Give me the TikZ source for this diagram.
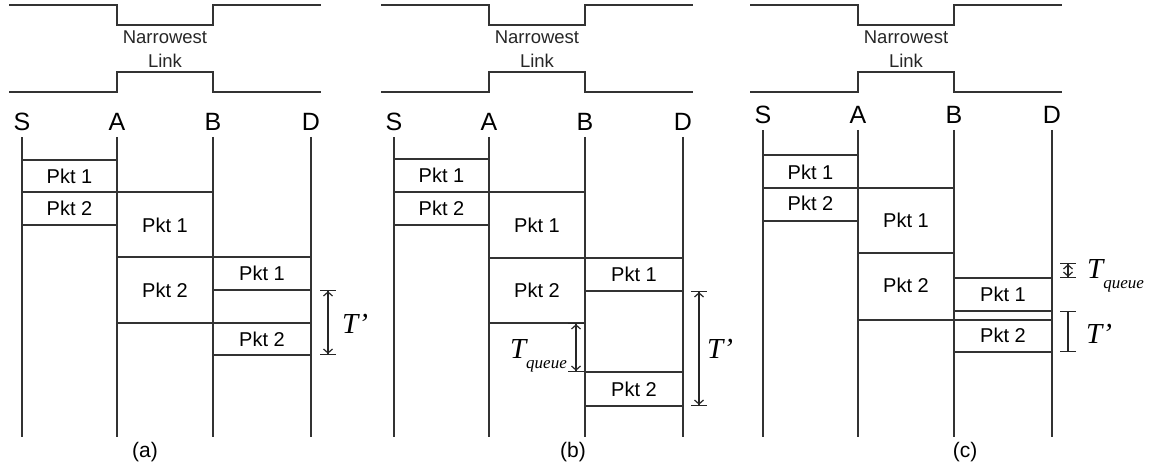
\documentclass[tikz,border=0pt]{standalone}
\usepackage{fontspec}
\setmainfont{Liberation Sans}
\newfontfamily\timesfont{Liberation Serif}
\usetikzlibrary{arrows.meta,positioning}
\tikzset{
  wire/.style={line width=1.7pt,black!80},
  pkt/.style={font=\fontsize{20}{20}\selectfont,inner sep=0pt},
  hop/.style={font=\fontsize{25}{25}\selectfont,inner sep=0pt},
  pipetxt/.style={font=\fontsize{18.5}{18.5}\selectfont,inner sep=0pt,black!85},
  capt/.style={font=\fontsize{21}{21}\selectfont,inner sep=0pt},
  tlab/.style={font=\timesfont\itshape\fontsize{29}{29}\selectfont,inner sep=0pt},
  gap/.style={line width=1.2pt,black!85,arrows={Bar[width=16pt]Straight Barb[length=4pt,width=9pt]-Straight Barb[length=4pt,width=9pt]Bar[width=16pt]}},
  bars/.style={line width=1.2pt,black!85,arrows={Bar[width=16pt]-Bar[width=16pt]}}
}
\newcommand{\tq}{T\raisebox{-10pt}{\fontsize{17}{17}\selectfont queue}}
\begin{document}
\begin{tikzpicture}[x=1pt,y=-1pt]
\useasboundingbox (0,0) rectangle (1157,468);
% pipe, hops and time lines of each panel
\foreach \p/\dx/\ly in {a/22/122,b/394/122,c/763/115}{
  \begin{scope}[xshift=\dx pt]
    \draw[wire] (-13,5) -| (95,25) -| (191,5) -- (299,5);
    \draw[wire] (-13,92) -| (95,72) -| (191,92) -- (299,92);
    \node[pipetxt] (nw\p) at (143,37) {Narrowest};
    \node[pipetxt] (lk\p) at (143,61) {Link};
    \node[hop] (s\p) at (0,\ly) {S};
    \node[hop] (a\p) at (95,\ly) {A};
    \node[hop] (b\p) at (191,\ly) {B};
    \node[hop] (d\p) at (289,\ly) {D};
    \coordinate (se\p) at (0,437);
    \coordinate (ae\p) at (95,437);
    \coordinate (be\p) at (191,437);
    \coordinate (de\p) at (289,437);
    \foreach \h in {s,a,b,d}{\draw[wire] ([yshift=-6pt]\h\p.south) -- (\h e\p);}
  \end{scope}
}
% (a)
\begin{scope}[xshift=22pt]
\draw[wire] (0,160) -- (95,160);
\draw[wire] (0,192) -- (191,192);
\draw[wire] (0,225) -- (95,225);
\draw[wire] (95,257) -- (289,257);
\draw[wire] (191,290) -- (289,290);
\draw[wire] (95,323) -- (289,323);
\draw[wire] (191,355) -- (289,355);
\node[pkt] (p1sa) at (47.5,176) {Pkt 1};
\node[pkt] (p2sa) at (47.5,208) {Pkt 2};
\node[pkt] (p1aa) at (143,225) {Pkt 1};
\node[pkt] (p2aa) at (143,290) {Pkt 2};
\node[pkt] (p1ba) at (240,273) {Pkt 1};
\node[pkt] (p2ba) at (240,339) {Pkt 2};
\coordinate (tpa1) at (306,290);
\coordinate (tpa2) at (306,355);
\draw[gap] (tpa1) -- (tpa2);
\node[tlab,anchor=base west] (tpla) at (320,333) {T’};
\end{scope}
% (b)
\begin{scope}[xshift=394pt]
\draw[wire] (0,159) -- (95,159);
\draw[wire] (0,192) -- (191,192);
\draw[wire] (0,225) -- (95,225);
\draw[wire] (95,258) -- (289,258);
\draw[wire] (191,291) -- (289,291);
\draw[wire] (95,323) -- (191,323);
\draw[wire] (191,372) -- (289,372);
\draw[wire] (191,406) -- (289,406);
\node[pkt] (p1sb) at (47.5,175) {Pkt 1};
\node[pkt] (p2sb) at (47.5,208) {Pkt 2};
\node[pkt] (p1ab) at (143,225) {Pkt 1};
\node[pkt] (p2ab) at (143,290) {Pkt 2};
\node[pkt] (p1bb) at (240,274) {Pkt 1};
\node[pkt] (p2bb) at (240,389) {Pkt 2};
\coordinate (tqb1) at (182,323);
\coordinate (tqb2) at (182,372);
\draw[gap] (tqb1) -- (tqb2);
\node[tlab,anchor=base east] (tqlb) at (173,358) {\tq};
\coordinate (tpb1) at (305,291);
\coordinate (tpb2) at (305,406);
\draw[gap] (tpb1) -- (tpb2);
\node[tlab,anchor=base west] (tplb) at (313,358) {T’};
\end{scope}
% (c)
\begin{scope}[xshift=763pt]
\draw[wire] (0,155) -- (95,155);
\draw[wire] (0,188) -- (191,188);
\draw[wire] (0,221) -- (95,221);
\draw[wire] (95,253) -- (191,253);
\draw[wire] (191,278) -- (289,278);
\draw[wire] (191,311) -- (289,311);
\draw[wire] (95,320) -- (289,320);
\draw[wire] (191,352) -- (289,352);
\node[pkt] (p1sc) at (47.5,172) {Pkt 1};
\node[pkt] (p2sc) at (47.5,203) {Pkt 2};
\node[pkt] (p1ac) at (143,220) {Pkt 1};
\node[pkt] (p2ac) at (143,285) {Pkt 2};
\node[pkt] (p1bc) at (240,294) {Pkt 1};
\node[pkt] (p2bc) at (240,335) {Pkt 2};
\coordinate (tqc1) at (305,263);
\coordinate (tqc2) at (305,278);
\draw[gap] (tqc1) -- (tqc2);
\node[tlab,anchor=base west] (tqlc) at (324,278) {\tq};
\coordinate (tpc1) at (305,311);
\coordinate (tpc2) at (305,352);
\draw[bars] (tpc1) -- (tpc2);
\node[tlab,anchor=base west] (tplc) at (323,343) {T’};
\end{scope}
% captions
\node[capt] (capa) at (145,452) {(a)};
\node[capt] (capb) at (573,452) {(b)};
\node[capt] (capc) at (965,452) {(c)};
\end{tikzpicture}
\end{document}
